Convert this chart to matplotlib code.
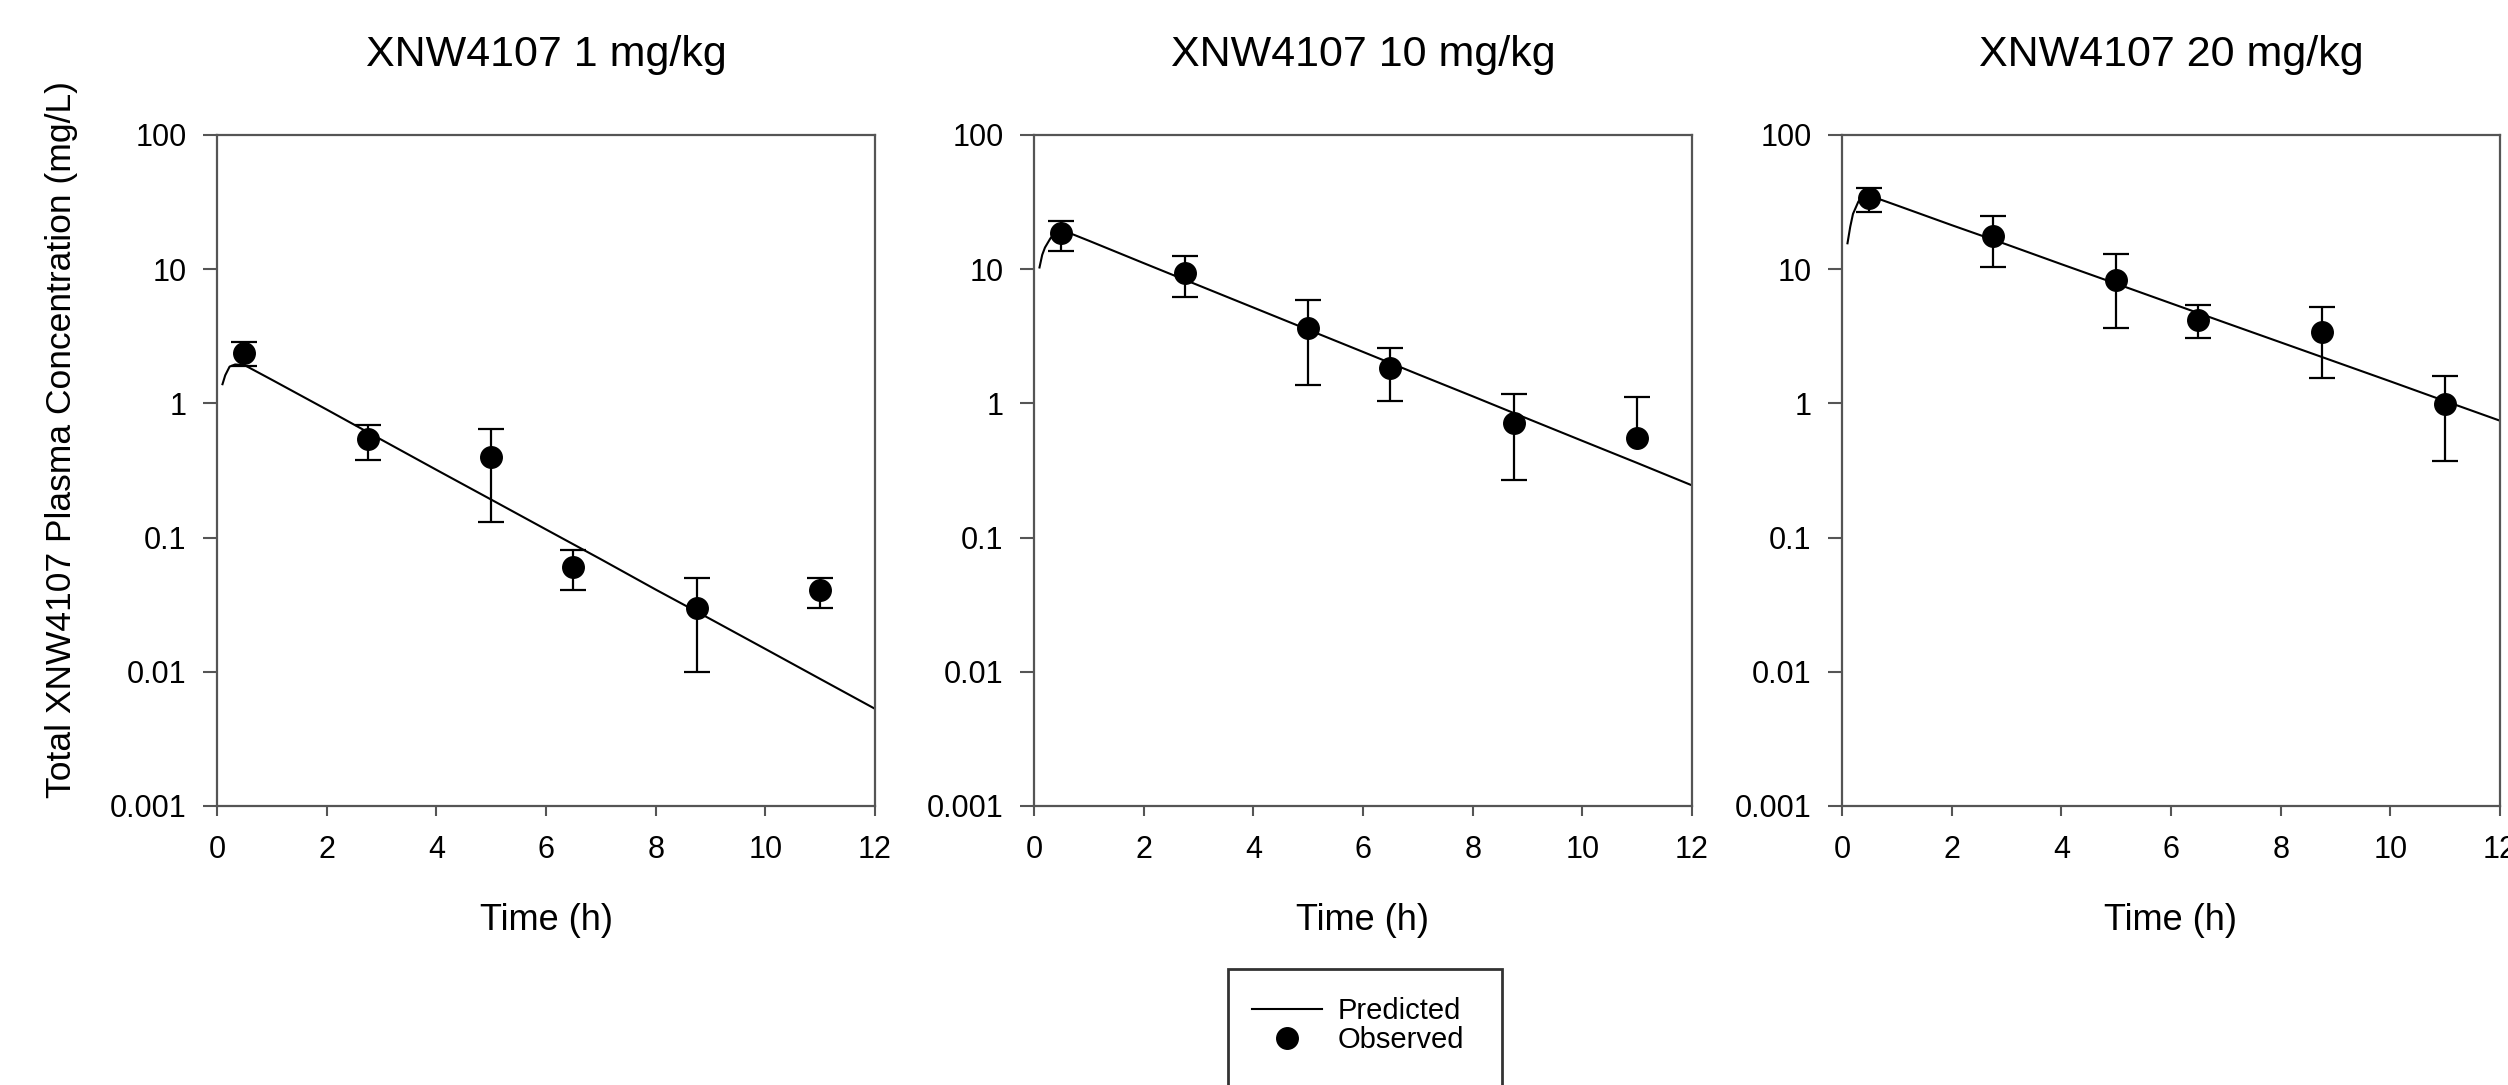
import numpy as np
import matplotlib.pyplot as plt
from matplotlib.lines import Line2D
from matplotlib.patches import Rectangle

plt.rcParams["font.family"] = ["Liberation Sans", "DejaVu Sans"]

# Data

titles = ["XNW4107 1 mg/kg", "XNW4107 10 mg/kg", "XNW4107 20 mg/kg"]

obs_time = [0.5, 2.75, 5.0, 6.5, 8.75, 11.0]

# 1 mg/kg
obs_1 = [2.37, 0.54, 0.40, 0.060, 0.030, 0.041]
obs_1_lo = [1.90, 0.38, 0.13, 0.041, 0.010, 0.030]
obs_1_hi = [2.87, 0.69, 0.65, 0.081, 0.050, 0.050]
pred_1_t = [0.1, 0.15, 0.23, 0.33, 0.5, 1, 2, 3, 4, 5, 6, 7, 8, 9, 10, 11, 12]
pred_1 = [1.39, 1.62, 1.88, 1.95, 1.93, 1.50, 0.90, 0.536, 0.32, 0.192,
          0.115, 0.069, 0.041, 0.0247, 0.0148, 0.00885, 0.0053]

# 10 mg/kg (last point has no lower bar)
obs_10 = [18.5, 9.4, 3.65, 1.83, 0.72, 0.556]
obs_10_lo = [13.6, 6.2, 1.38, 1.05, 0.27, np.nan]
obs_10_hi = [23.0, 12.6, 5.86, 2.57, 1.17, 1.12]
pred_10_t = [0.1, 0.15, 0.2, 0.3, 0.4, 0.55, 1, 2, 3, 4, 5, 6, 7, 8, 9, 10, 11, 12]
pred_10 = [10.3, 12.8, 14.5, 17.0, 18.6, 19.3, 16.3, 11.1, 7.58, 5.18, 3.54,
           2.42, 1.65, 1.13, 0.77, 0.526, 0.36, 0.245]

# 20 mg/kg
obs_20 = [34.0, 17.8, 8.3, 4.2, 3.4, 0.99]
obs_20_lo = [26.7, 10.4, 3.62, 3.09, 1.54, 0.372]
obs_20_hi = [40.6, 24.9, 12.9, 5.42, 5.23, 1.6]
pred_20_t = [0.1, 0.15, 0.2, 0.3, 0.48, 1, 2, 3, 4, 5, 6, 7, 8, 9, 10, 11, 12]
pred_20 = [15.6, 20.7, 25.8, 32.0, 35.6, 29.9, 21.3, 15.3, 10.9, 7.8, 5.57,
           3.98, 2.85, 2.04, 1.46, 1.04, 0.743]

panels = [
    (pred_1_t, pred_1, obs_1, obs_1_lo, obs_1_hi),
    (pred_10_t, pred_10, obs_10, obs_10_lo, obs_10_hi),
    (pred_20_t, pred_20, obs_20, obs_20_lo, obs_20_hi),
]

y_ticks = [0.001, 0.01, 0.1, 1, 10, 100]
y_tick_labels = ["0.001", "0.01", "0.1", "1", "10", "100"]
x_ticks = [0, 2, 4, 6, 8, 10, 12]

# Figure

W, H = 2508, 1085
fig = plt.figure(figsize=(W / 100, H / 100), dpi=100)

spine_col = "#555555"
ax_lefts = [217, 1034, 1842]
ax_w = 658
ax_top, ax_bot = 135, 806
ms = 15.5

for i, (pt, pv, ov, lo, hi) in enumerate(panels):
    ax = fig.add_axes([ax_lefts[i] / W, 1 - ax_bot / H, ax_w / W, (ax_bot - ax_top) / H])

    ax.plot(pt, pv, color="black", lw=1.5, zorder=2)

    # error bars: whiskers and caps, a missing bound just gets no whisker
    ov = np.array(ov)
    lo = np.array(lo)
    hi = np.array(hi)
    ax.vlines(obs_time, np.where(np.isnan(lo), ov, lo), hi,
              color="black", lw=1.6, zorder=2.5)
    ax.plot(obs_time, hi, linestyle="None", marker="_", markersize=19,
            markeredgewidth=1.6, color="black", zorder=2.5)
    ax.plot(obs_time, lo, linestyle="None", marker="_", markersize=19,
            markeredgewidth=1.6, color="black", zorder=2.5)
    ax.plot(obs_time, ov, linestyle="None", marker="o", markersize=ms,
            color="black", zorder=3)

    ax.set_yscale("log")
    ax.set_xlim(0, 12)
    ax.set_ylim(0.001, 100)
    ax.set_yticks(y_ticks)
    ax.set_yticklabels(y_tick_labels)
    ax.yaxis.set_minor_locator(plt.NullLocator())
    ax.set_xticks(x_ticks)

    for s in ax.spines.values():
        s.set_color(spine_col)
        s.set_linewidth(1.6)
    ax.tick_params(axis="y", direction="out", length=10, width=1.5,
                   color=spine_col, labelsize=22, pad=12)
    ax.tick_params(axis="x", direction="out", length=7, width=1.5,
                   color=spine_col, labelsize=22, pad=14)

    ax.text(0.5, (ax_bot - 66) / (ax_bot - ax_top), titles[i],
            transform=ax.transAxes, ha="center", va="baseline", fontsize=31)

    ax.set_xlabel("Time (h)", fontsize=26)
    ax.xaxis.set_label_coords(0.5, (ax_bot - 903) / (ax_bot - ax_top))

    if i == 0:
        ax.set_ylabel("Total XNW4107 Plasma Concentration (mg/L)", fontsize=25.5)
        ax.yaxis.set_label_coords(-0.212, (ax_bot - 440) / (ax_bot - ax_top))

# Legend below the middle panel

handles = [
    Line2D([], [], color="black", lw=1.5),
    Line2D([], [], color="black", marker="o", linestyle="None", markersize=ms),
]
fig.legend(handles, ["Predicted", "Observed"], loc="upper left",
           bbox_to_anchor=(1252 / W, 1 - 997 / H), frameon=False,
           fontsize=21, borderpad=0, borderaxespad=0, handlelength=2.4,
           handletextpad=0.55, labelspacing=0.05)

fig.add_artist(Rectangle((1228 / W, -0.05), 274 / W, 0.05 + 1 - 969 / H,
                         transform=fig.transFigure, fill=False,
                         edgecolor="#333333", lw=2))

fig.savefig("out.png", dpi=100)
